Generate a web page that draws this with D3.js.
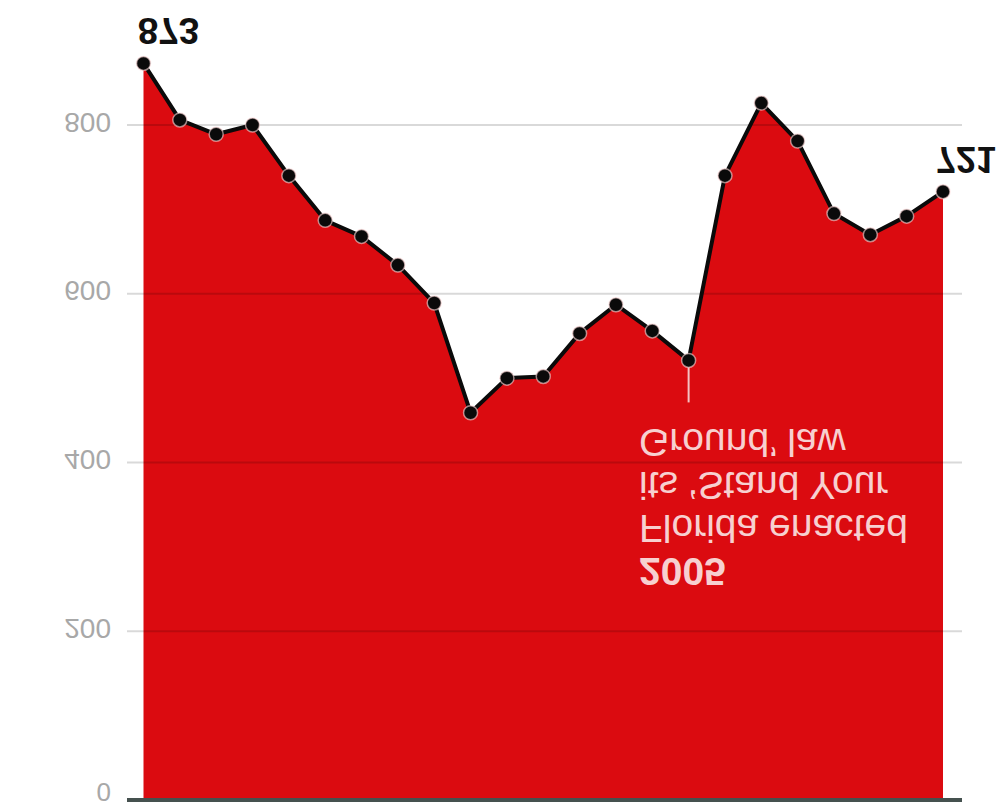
<!DOCTYPE html>
<html>
<head>
<meta charset="utf-8">
<script src="https://cdn.jsdelivr.net/npm/d3@7"></script>
<style>
  html, body { margin: 0; padding: 0; background: #fff; }
  svg { display: block; font-family: "Liberation Sans", Arial, sans-serif; }
</style>
</head>
<body>
<svg id="chart" width="996" height="810"></svg>
<script>
// Yearly values, 1990 - 2012
const years  = d3.range(1990, 2013);
const deaths = [873, 806, 789, 800, 740, 687, 668, 634, 589, 459, 500, 502,
                553, 587, 556, 521, 740, 826, 781, 695, 670, 692, 721];
const yTicks = [0, 200, 400, 600, 800];
const noteLines = ['2005', 'Florida enacted', "its \u2018Stand Your", "Ground\u2019 law"];

const svg = d3.select('#chart');

const x = d3.scaleLinear().domain([1990, 2012]).range([143.5, 943]);
const y = d3.scaleLinear().domain([0, 800]).range([800, 125]);

const data = years.map((yr, i) => ({ year: yr, value: deaths[i] }));

// flipped text helper: glyphs are mirrored top-to-bottom in the reference
function flipText(g, tx, ty, str, opts) {
  return g.append('text')
    .attr('transform', `translate(${tx},${ty}) scale(1,-1)`)
    .attr('text-anchor', opts.anchor || 'start')
    .attr('font-size', opts.size)
    .attr('font-weight', opts.weight || 'normal')
    .attr('fill', opts.fill)
    .text(str);
}

// area
svg.append('path')
  .datum(data)
  .attr('fill', '#db0b10')
  .attr('d', d3.area()
    .x(d => x(d.year))
    .y0(y(0))
    .y1(d => y(d.value)));

// gridlines
const grid = svg.append('g');
grid.selectAll('line').data(yTicks.filter(t => t > 0)).join('line')
  .attr('x1', 127).attr('x2', 962)
  .attr('y1', d => y(d)).attr('y2', d => y(d))
  .attr('stroke', 'rgba(0,0,0,0.15)')
  .attr('stroke-width', 2);

// baseline
svg.append('line')
  .attr('x1', 127).attr('x2', 962)
  .attr('y1', y(0)).attr('y2', y(0))
  .attr('stroke', '#45514f')
  .attr('stroke-width', 4);

// tick labels (the zero label sits a little higher so it stays on the page)
const labels = svg.append('g');
yTicks.forEach(t => {
  flipText(labels, 111, y(t) - (t === 0 ? 17 : 12.5), d3.format('d')(t),
    { anchor: 'end', size: t === 0 ? 26 : 28, fill: '#a8a8a8' });
});

// annotation connector
const i05 = years.indexOf(2005);
svg.append('line')
  .attr('x1', x(2005)).attr('x2', x(2005))
  .attr('y1', y(deaths[i05]) + 6).attr('y2', y(deaths[i05]) + 42)
  .attr('stroke', '#f4c2c2')
  .attr('stroke-width', 2);

// annotation text (block flipped: first line sits lowest)
const note = svg.append('g');
noteLines.forEach((s, k) => {
  flipText(note, 639, 558 - k * 43, s,
    { size: 39, weight: k === 0 ? 'bold' : 'normal', fill: '#f7d0d0' });
});

// line
svg.append('path')
  .datum(data)
  .attr('fill', 'none')
  .attr('stroke', '#0a0a0a')
  .attr('stroke-width', 4)
  .attr('stroke-linejoin', 'round')
  .attr('d', d3.line().x(d => x(d.year)).y(d => y(d.value)));

// dots
svg.append('g').selectAll('circle').data(data).join('circle')
  .attr('cx', d => x(d.year))
  .attr('cy', d => y(d.value))
  .attr('r', 7)
  .attr('fill', '#0a0a0a')
  .attr('stroke', 'rgba(255,220,220,0.6)')
  .attr('stroke-width', 1.5);

// end value labels
const ends = svg.append('g');
flipText(ends, x(1990) + 25, 18, String(deaths[0]),
  { anchor: 'middle', size: 37, weight: 'bold', fill: '#111' });
flipText(ends, 936, 147, String(deaths[deaths.length - 1]),
  { anchor: 'start', size: 36, weight: 'bold', fill: '#111' });
</script>
</body>
</html>
